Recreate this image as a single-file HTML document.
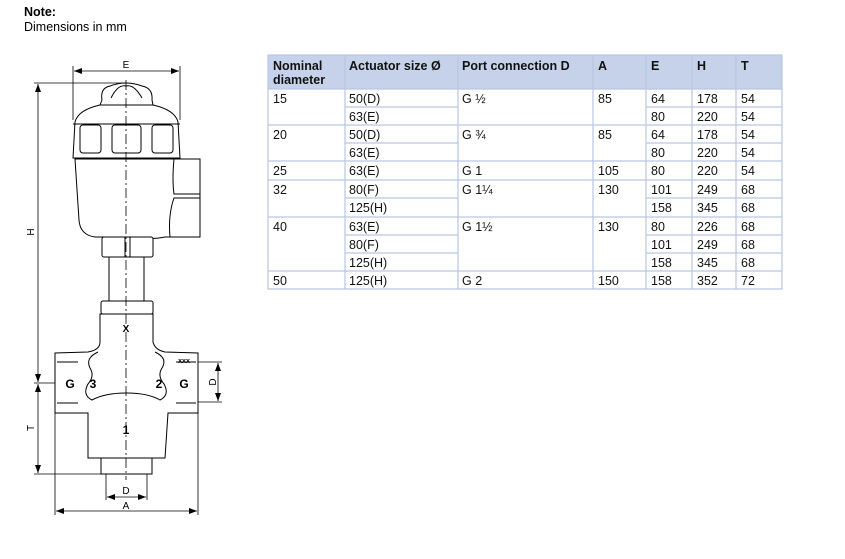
<!DOCTYPE html>
<html><head><meta charset="utf-8"><style>
body{margin:0;background:#fff;width:845px;height:559px;overflow:hidden;font-family:"Liberation Sans",Arial,sans-serif}
svg{position:absolute;left:0;top:0}
</style></head><body>
<svg width="845" height="559" viewBox="0 0 845 559" font-family="Liberation Sans, Arial, sans-serif">
<text x="24" y="16" font-size="12.5" font-weight="bold" fill="#000">Note:</text>
<text x="24" y="31" font-size="12.5" fill="#000">Dimensions in mm</text>

<!-- TABLE -->
<g>
<rect x="268" y="55" width="514" height="34" fill="#c6d2e9"/>
<g stroke="#b7c6e2" stroke-width="1.2" fill="none">
<rect x="268" y="55" width="514" height="234"/>
<line x1="345" y1="55" x2="345" y2="289"/>
<line x1="458" y1="55" x2="458" y2="289"/>
<line x1="593" y1="55" x2="593" y2="289"/>
<line x1="646" y1="55" x2="646" y2="289"/>
<line x1="692" y1="55" x2="692" y2="289"/>
<line x1="736" y1="55" x2="736" y2="289"/>
<line x1="268" y1="89" x2="782" y2="89"/>
<line x1="345" y1="107" x2="458" y2="107"/><line x1="646" y1="107" x2="782" y2="107"/>
<line x1="268" y1="125" x2="782" y2="125"/>
<line x1="345" y1="143" x2="458" y2="143"/><line x1="646" y1="143" x2="782" y2="143"/>
<line x1="268" y1="161" x2="782" y2="161"/>
<line x1="268" y1="180" x2="782" y2="180"/>
<line x1="345" y1="198" x2="458" y2="198"/><line x1="646" y1="198" x2="782" y2="198"/>
<line x1="268" y1="217" x2="782" y2="217"/>
<line x1="345" y1="235" x2="458" y2="235"/><line x1="646" y1="235" x2="782" y2="235"/>
<line x1="345" y1="253" x2="458" y2="253"/><line x1="646" y1="253" x2="782" y2="253"/>
<line x1="268" y1="271" x2="782" y2="271"/>
</g>
<g font-size="12.5" font-weight="bold" fill="#111">
<text x="273" y="70">Nominal</text><text x="273" y="84">diameter</text>
<text x="349" y="70">Actuator size Ø</text>
<text x="462" y="70">Port connection D</text>
<text x="598" y="70">A</text><text x="651" y="70">E</text><text x="697" y="70">H</text><text x="741" y="70">T</text>
</g>
<g font-size="12.5" fill="#111">
<text x="273" y="103">15</text><text x="349" y="103">50(D)</text><text x="462" y="103">G ½</text><text x="598" y="103">85</text><text x="651" y="103">64</text><text x="697" y="103">178</text><text x="741" y="103">54</text>
<text x="349" y="121">63(E)</text><text x="651" y="121">80</text><text x="697" y="121">220</text><text x="741" y="121">54</text>
<text x="273" y="139">20</text><text x="349" y="139">50(D)</text><text x="462" y="139">G ¾</text><text x="598" y="139">85</text><text x="651" y="139">64</text><text x="697" y="139">178</text><text x="741" y="139">54</text>
<text x="349" y="157">63(E)</text><text x="651" y="157">80</text><text x="697" y="157">220</text><text x="741" y="157">54</text>
<text x="273" y="175">25</text><text x="349" y="175">63(E)</text><text x="462" y="175">G 1</text><text x="598" y="175">105</text><text x="651" y="175">80</text><text x="697" y="175">220</text><text x="741" y="175">54</text>
<text x="273" y="194">32</text><text x="349" y="194">80(F)</text><text x="462" y="194">G 1¼</text><text x="598" y="194">130</text><text x="651" y="194">101</text><text x="697" y="194">249</text><text x="741" y="194">68</text>
<text x="349" y="212">125(H)</text><text x="651" y="212">158</text><text x="697" y="212">345</text><text x="741" y="212">68</text>
<text x="273" y="231">40</text><text x="349" y="231">63(E)</text><text x="462" y="231">G 1½</text><text x="598" y="231">130</text><text x="651" y="231">80</text><text x="697" y="231">226</text><text x="741" y="231">68</text>
<text x="349" y="249">80(F)</text><text x="651" y="249">101</text><text x="697" y="249">249</text><text x="741" y="249">68</text>
<text x="349" y="267">125(H)</text><text x="651" y="267">158</text><text x="697" y="267">345</text><text x="741" y="267">68</text>
<text x="273" y="285">50</text><text x="349" y="285">125(H)</text><text x="462" y="285">G 2</text><text x="598" y="285">150</text><text x="651" y="285">158</text><text x="697" y="285">352</text><text x="741" y="285">72</text>
</g>
</g>

<!-- DRAWING -->
<defs>
<marker id="ar" markerWidth="8" markerHeight="6" refX="8" refY="3" orient="auto-start-reverse" markerUnits="userSpaceOnUse"><path d="M0,0 L8,3 L0,6 z" fill="#000"/></marker>
</defs>
<g stroke="#000" stroke-width="1" fill="#fff">
<!-- knob -->
<path d="M102,100 Q100,88 110,86 Q126,80 142,86 Q153,88 152,100 L153,105 L100,105 Z"/>
<path d="M111,98 Q118,84 126,86 Q134,84 142,98" fill="none"/>
<!-- actuator top -->
<path d="M100,105 L153,105 Q175,110 178,122 L180,158 L73,158 L75,122 Q78,110 100,105 Z"/>
<rect x="80" y="125" width="21" height="28" rx="3"/>
<rect x="112" y="125" width="29" height="28" rx="3"/>
<rect x="152" y="125" width="21" height="28" rx="3"/>
<line x1="73" y1="124" x2="180" y2="124"/>
<!-- lower actuator -->
<path d="M75,159 L174,159 L200,159 L200,237 L165,237 Q150,240 140,237 L95,237 Q80,235 79,220 Z"/>
<path d="M174,159 Q172,180 174,194 L200,194 L200,198 L174,198 Q168,215 170,237" fill="none"/>
<!-- hex nut -->
<rect x="102" y="237" width="51" height="20" rx="2"/>
<line x1="125" y1="237" x2="125" y2="257"/><line x1="130" y1="237" x2="130" y2="257"/>
<!-- stem -->
<rect x="109" y="257" width="35" height="44"/>
<!-- body nut -->
<rect x="101" y="301" width="52" height="13" rx="2"/>
<!-- body -->
<path d="M100,314 L153,314 L153,342 Q155,350 165,352 L198,353 L198,413 L168,413 L165,458 L88,458 L88,413 L55,413 L55,353 L88,352 Q100,350 100,342 Z"/>
<path d="M98,352 Q85,358 90,368 Q95,376 88,384 Q82,395 92,400 Q105,393 126,393 Q148,393 160,400 Q170,395 164,384 Q157,376 162,368 Q168,358 155,352" fill="none"/>
<line x1="57" y1="362" x2="78" y2="362"/><line x1="57" y1="403" x2="78" y2="403"/>
<line x1="176" y1="362" x2="196" y2="362"/><line x1="176" y1="403" x2="196" y2="403"/>
<rect x="101" y="458" width="51" height="16"/>
</g>
<!-- centerline -->
<line x1="126" y1="80" x2="126" y2="480" stroke="#000" stroke-width="0.8" stroke-dasharray="10,3,2,3"/>
<!-- dimension lines -->
<g stroke="#000" stroke-width="0.8" fill="none">
<line x1="73" y1="66" x2="73" y2="120"/><line x1="180" y1="66" x2="180" y2="120"/>
<line x1="74" y1="71" x2="179" y2="71" marker-start="url(#ar)" marker-end="url(#ar)"/>
<line x1="34" y1="83" x2="126" y2="83"/>
<line x1="38" y1="84" x2="38" y2="382" marker-start="url(#ar)" marker-end="url(#ar)"/>
<line x1="34" y1="383" x2="55" y2="383"/>
<line x1="38" y1="384" x2="38" y2="473" marker-start="url(#ar)" marker-end="url(#ar)"/>
<line x1="34" y1="474" x2="101" y2="474"/>
<line x1="106" y1="474" x2="106" y2="500"/><line x1="147" y1="474" x2="147" y2="500"/>
<line x1="107" y1="497" x2="146" y2="497" marker-start="url(#ar)" marker-end="url(#ar)"/>
<line x1="55" y1="413" x2="55" y2="515"/><line x1="198" y1="413" x2="198" y2="515"/>
<line x1="56" y1="511" x2="197" y2="511" marker-start="url(#ar)" marker-end="url(#ar)"/>
<line x1="198" y1="362" x2="222" y2="362"/><line x1="198" y1="402" x2="222" y2="402"/>
<line x1="218" y1="363" x2="218" y2="401" marker-start="url(#ar)" marker-end="url(#ar)"/>
</g>
<g font-size="10" fill="#000">
<text x="126" y="68" text-anchor="middle">E</text>
<text x="126" y="494" text-anchor="middle">D</text>
<text x="126" y="509" text-anchor="middle">A</text>
<text transform="translate(34,232) rotate(-90)" text-anchor="middle">H</text>
<text transform="translate(34,428) rotate(-90)" text-anchor="middle">T</text>
<text transform="translate(216,382) rotate(-90)" text-anchor="middle">D</text>
</g>
<g font-size="12" font-weight="bold" fill="#000" text-anchor="middle">
<text x="70" y="388">G</text><text x="93" y="388">3</text>
<text x="159" y="388">2</text><text x="184" y="388">G</text>
<text x="126" y="434">1</text>
<text x="126" y="332" font-size="10">X</text>
<text x="184" y="363" font-size="7">xxx</text>
</g>
</svg>
</body></html>
